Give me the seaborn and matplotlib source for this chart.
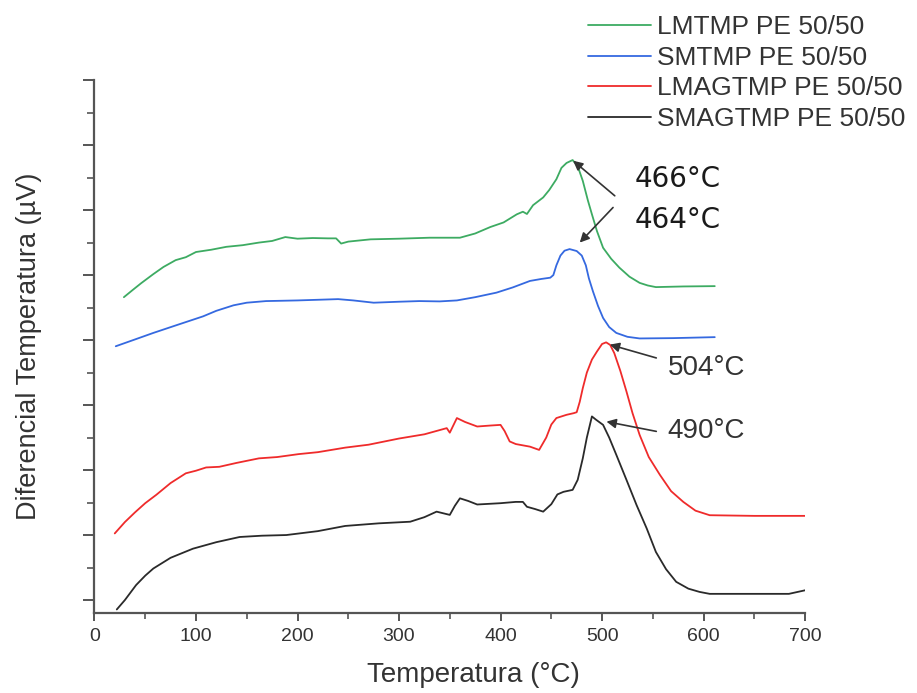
import numpy as np
import pandas as pd
import seaborn as sns
import matplotlib.pyplot as plt
from matplotlib.ticker import MultipleLocator

# curves (y in tick units, the y axis has no labels)
lm_tmp_x = [29, 38, 46, 58, 68, 80, 90, 100, 115, 130, 146, 162, 175, 188, 200, 215,
            230, 238, 243, 250, 272, 300, 330, 360, 375, 390, 403, 416, 422, 426, 432,
            442, 448, 455, 460, 465, 471, 476, 481, 486, 490, 495, 501, 509, 517, 527,
            537, 545, 553, 580, 611]
lm_tmp_y = [10.32, 10.55, 10.75, 11.03, 11.25, 11.46, 11.55, 11.71, 11.78, 11.87, 11.92,
            12.00, 12.05, 12.17, 12.12, 12.14, 12.13, 12.13, 11.97, 12.03, 12.10, 12.12,
            12.15, 12.15, 12.28, 12.48, 12.62, 12.87, 12.95, 12.88, 13.15, 13.39, 13.62,
            13.95, 14.30, 14.45, 14.54, 14.35, 13.90, 13.30, 12.87, 12.35, 11.84, 11.50,
            11.23, 10.95, 10.76, 10.68, 10.63, 10.65, 10.66]

sm_tmp_x = [21, 40, 58, 80, 107, 120, 137, 150, 169, 185, 200, 220, 240, 255, 275, 300,
            320, 340, 357, 375, 396, 412, 429, 440, 449, 452, 455, 459, 463, 468, 475,
            480, 484, 487, 491, 496, 501, 507, 514, 525, 537, 570, 611]
sm_tmp_y = [8.81, 9.02, 9.22, 9.45, 9.73, 9.90, 10.07, 10.15, 10.20, 10.21, 10.22, 10.24,
            10.26, 10.22, 10.15, 10.18, 10.20, 10.19, 10.22, 10.32, 10.46, 10.62, 10.82,
            10.88, 10.92, 11.00, 11.30, 11.60, 11.75, 11.80, 11.74, 11.60, 11.30, 10.90,
            10.50, 10.05, 9.68, 9.40, 9.22, 9.10, 9.05, 9.06, 9.09]

lmag_tmp_x = [20, 30, 40, 50, 61, 75, 90, 100, 110, 123, 140, 162, 180, 201, 220, 247,
              270, 300, 325, 347, 350, 357, 365, 377, 390, 400, 404, 409, 415, 429, 438,
              445, 450, 455, 465, 472, 475, 478, 481, 485, 490, 495, 500, 504, 508, 512,
              518, 524, 530, 537, 546, 557, 568, 580, 592, 606, 650, 700]
lmag_tmp_y = [3.05, 3.40, 3.70, 3.98, 4.24, 4.60, 4.90, 4.98, 5.08, 5.10, 5.22, 5.36,
              5.40, 5.49, 5.55, 5.69, 5.78, 5.97, 6.10, 6.29, 6.15, 6.60, 6.48, 6.34,
              6.37, 6.39, 6.20, 5.88, 5.80, 5.72, 5.62, 6.00, 6.40, 6.60, 6.70, 6.75,
              6.78, 7.10, 7.52, 8.00, 8.40, 8.65, 8.88, 8.93, 8.85, 8.60, 8.05, 7.42,
              6.75, 6.08, 5.40, 4.85, 4.35, 4.02, 3.75, 3.61, 3.59, 3.59]

smag_tmp_x = [22, 30, 41, 50, 58, 75, 97, 120, 143, 165, 189, 220, 247, 280, 311, 325,
              337, 350, 355, 360, 368, 377, 400, 415, 422, 426, 434, 442, 450, 456, 462,
              471, 476, 481, 485, 490, 494, 501, 507, 514, 524, 534, 544, 553, 563, 573,
              585, 596, 606, 650, 684, 700]
smag_tmp_y = [0.71, 1.00, 1.46, 1.75, 1.97, 2.30, 2.58, 2.78, 2.94, 2.98, 3.00, 3.12,
              3.28, 3.36, 3.41, 3.55, 3.72, 3.62, 3.90, 4.13, 4.05, 3.94, 3.98, 4.02,
              4.02, 3.87, 3.80, 3.72, 3.95, 4.25, 4.33, 4.39, 4.70, 5.36, 6.00, 6.65,
              6.55, 6.39, 6.00, 5.47, 4.70, 3.92, 3.20, 2.48, 1.95, 1.56, 1.35, 1.25,
              1.19, 1.19, 1.19, 1.30]

series_names = ['LMTMP PE 50/50', 'SMTMP PE 50/50', 'LMAGTMP PE 50/50', 'SMAGTMP PE 50/50']
series_colors = ['#3dab62', '#3569e0', '#ef2b2b', '#2a2a2a']

# peak labels: text, arrow head (x, y), arrow tail (x, y), text position (x, y)
peak_labels = ['466°C', '464°C', '504°C', '490°C']
peak_heads = [(471.5, 14.52), (478, 12.0), (507.6, 8.86), (504.3, 6.49)]
peak_tails = [(512.5, 13.44), (510.8, 13.08), (553.4, 8.45), (553.4, 6.19)]
peak_text_pos = [(532, 13.95), (532, 12.70), (564.5, 8.13), (564.5, 6.19)]

# long form table for seaborn
frames = []
for name, xs, ys in zip(series_names,
                        [lm_tmp_x, sm_tmp_x, lmag_tmp_x, smag_tmp_x],
                        [lm_tmp_y, sm_tmp_y, lmag_tmp_y, smag_tmp_y]):
    frames.append(pd.DataFrame({'Temperatura': xs, 'DT': ys, 'Muestra': name}))
data = pd.concat(frames, ignore_index=True)

sns.set_style('ticks')
plt.rcParams['font.family'] = ['Liberation Sans', 'DejaVu Sans']

fig = plt.figure(figsize=(9.17, 6.93), dpi=100)
ax = fig.add_axes([0.103, 0.1154, 0.775, 0.769])

sns.lineplot(data=data, x='Temperatura', y='DT', hue='Muestra', sort=False,
             palette=dict(zip(series_names, series_colors)), linewidth=1.3,
             estimator=None, ax=ax)

ax.set_xlim(0, 700)
ax.set_ylim(0.6, 17)
ax.xaxis.set_major_locator(MultipleLocator(100))
ax.xaxis.set_minor_locator(MultipleLocator(50))
ax.set_yticks(np.arange(1, 18, 2))
ax.set_yticks(np.arange(2, 17, 2), minor=True)
ax.set_yticklabels([])

for side in ['top', 'right']:
    ax.spines[side].set_visible(False)
for side in ['left', 'bottom']:
    ax.spines[side].set_color('#555555')
    ax.spines[side].set_linewidth(1.6)

ax.tick_params(axis='x', which='major', length=6, width=1.4, color='#555555',
               labelsize=14, labelcolor='#333333', pad=5)
ax.tick_params(axis='x', which='minor', length=4, width=1.2, color='#555555')
ax.tick_params(axis='y', which='major', length=8, width=1.4, color='#555555')
ax.tick_params(axis='y', which='minor', length=5, width=1.2, color='#555555')

ax.set_xlabel('Temperatura (°C)', fontsize=20, color='#333333')
ax.xaxis.set_label_coords(0.533, -0.092)
ax.set_ylabel('Diferencial Temperatura (µV)', fontsize=19.5, color='#333333', labelpad=26)

for label, head, tail, pos in zip(peak_labels, peak_heads, peak_tails, peak_text_pos):
    ax.annotate('', xy=head, xytext=tail,
                arrowprops=dict(arrowstyle='-|>', color='#333333', lw=1.2,
                                mutation_scale=14, shrinkA=0, shrinkB=0))
    if label in ('466°C', '464°C'):
        ax.text(pos[0], pos[1], label, fontsize=20, color='#1a1a1a',
                family=['DejaVu Sans'], ha='left', va='center')
    else:
        ax.text(pos[0], pos[1], label, fontsize=20, color='#333333',
                ha='left', va='center')

handles, labels = ax.get_legend_handles_labels()
ax.legend(handles, labels, loc='upper left', bbox_to_anchor=(0.627, 0.997),
          bbox_transform=fig.transFigure, frameon=False, fontsize=19,
          handlelength=2.4, handletextpad=0.2, labelspacing=0.25, borderpad=0,
          labelcolor='#333333')

fig.savefig('out.png', dpi=100)
